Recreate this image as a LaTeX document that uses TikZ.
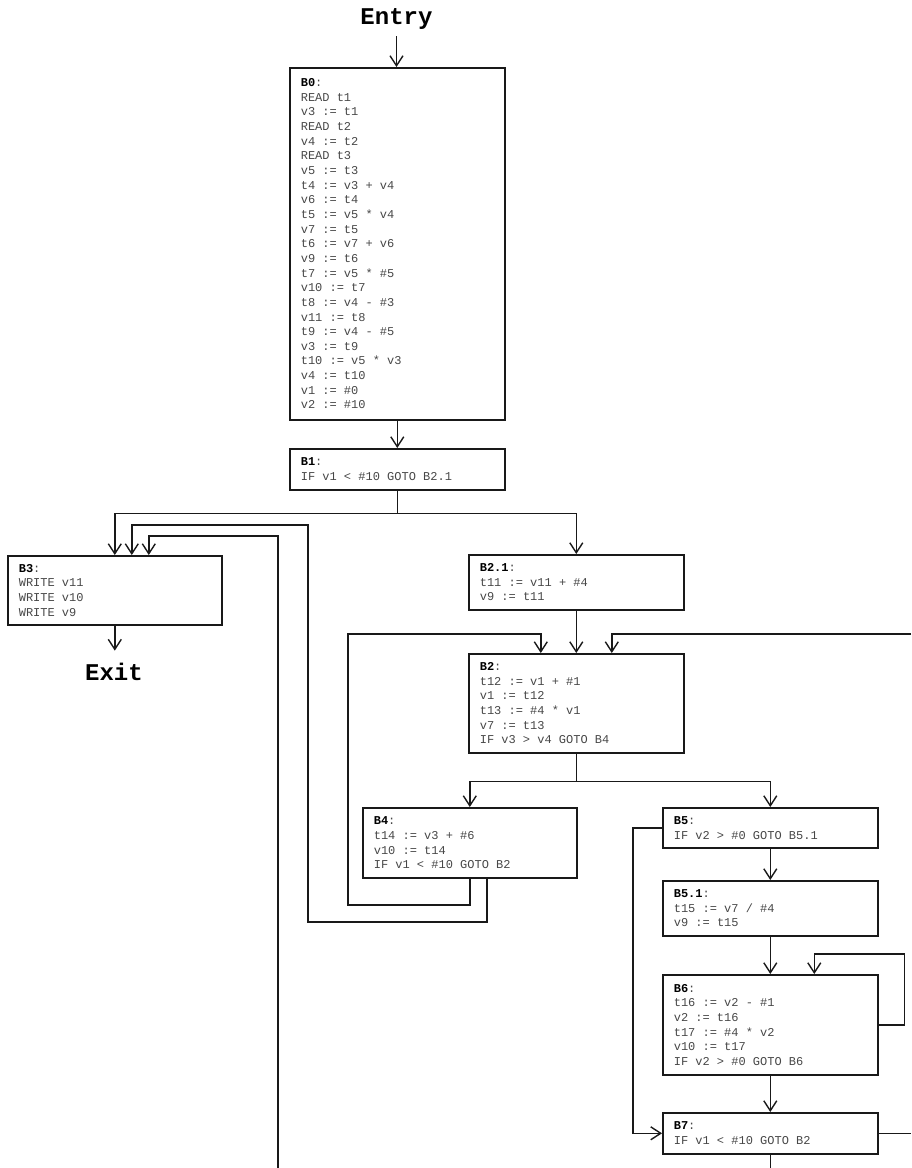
\documentclass[tikz,border=0pt]{standalone}
\usepackage{fontspec}
\newfontfamily\codefont{Liberation Mono}
\usetikzlibrary{arrows.meta}
\tikzset{
  blk/.style={draw=black!90, line width=1.6pt, anchor=north west, inner xsep=11pt, inner ysep=0pt,
    text width=#1, align=left, font=\codefont\fontsize{12}{14.65}\selectfont, text=black!72,
    execute at begin node={\spaceskip=7.2pt\xspaceskip=7.2pt\relax}},
  blk/.default=193pt,
  lbl/.style={},
  term/.style={font=\codefont\bfseries\fontsize{24}{24}\selectfont, inner sep=0pt},
  conn/.style={line width=1.4pt, draw=black!90},
  arr/.style={conn, -{Straight Barb[length=10pt,width=13pt,line width=1.4pt]}},
}
\newcommand{\bl}[1]{\textbf{\color{black}#1}}
\begin{document}
\begin{tikzpicture}[x=1pt,y=-1pt]
\useasboundingbox (0,0) rectangle (911,1168);
\coordinate (edgeR) at (911,0);
\coordinate (edgeB) at (0,1168);
% terminals
\node[term, outer ysep=7pt] (entry) at (396.5,19) {Entry};
% blocks
\node[blk, minimum width=215pt, minimum height=352pt] (B0) at (289,67) {\bl{B0}:\\READ t1\\v3 := t1\\READ t2\\v4 := t2\\READ t3\\v5 := t3\\t4 := v3 + v4\\v6 := t4\\t5 := v5 * v4\\v7 := t5\\t6 := v7 + v6\\v9 := t6\\t7 := v5 * \#5\\v10 := t7\\t8 := v4 - \#3\\v11 := t8\\t9 := v4 - \#5\\v3 := t9\\t10 := v5 * v3\\v4 := t10\\v1 := \#0\\v2 := \#10};
\node[blk, minimum width=215pt, minimum height=41pt] (B1) at (289,448) {\bl{B1}:\\IF v1 < \#10 GOTO B2.1};
\node[blk=192pt, minimum width=214pt, minimum height=69pt] (B3) at (7,555) {\bl{B3}:\\WRITE v11\\WRITE v10\\WRITE v9};
\node[term, anchor=base, outer ysep=12pt] (exit) at (114,680) {Exit};
\node[blk, minimum width=215pt, minimum height=55pt] (B21) at (468,554) {\bl{B2.1}:\\t11 := v11 + \#4\\v9 := t11};
\node[blk, minimum width=215pt, minimum height=99pt] (B2) at (468,653) {\bl{B2}:\\t12 := v1 + \#1\\v1 := t12\\t13 := \#4 * v1\\v7 := t13\\IF v3 > v4 GOTO B4};
\node[blk=192pt, minimum width=214pt, minimum height=70pt] (B4) at (362,807) {\bl{B4}:\\t14 := v3 + \#6\\v10 := t14\\IF v1 < \#10 GOTO B2};
\node[blk, minimum width=215pt, minimum height=40pt] (B5) at (662,807) {\bl{B5}:\\IF v2 > \#0 GOTO B5.1};
\node[blk, minimum width=215pt, minimum height=55pt] (B51) at (662,880) {\bl{B5.1}:\\t15 := v7 / \#4\\v9 := t15};
\node[blk, minimum width=215pt, minimum height=100pt] (B6) at (662,974) {\bl{B6}:\\t16 := v2 - \#1\\v2 := t16\\t17 := \#4 * v2\\v10 := t17\\IF v2 > \#0 GOTO B6};
\node[blk, minimum width=215pt, minimum height=41pt] (B7) at (662,1112) {\bl{B7}:\\IF v1 < \#10 GOTO B2};
% free ends at the picture edge
\coordinate (inR) at (911,634);
\coordinate (inB) at (278,1168);
% connectors
\draw[arr] (entry.south) -- (entry.south |- B0.north);
\draw[arr] (B0.south) -- (B1.north);
\draw[arr] (B1.south) -- ++(0,23) -| (B3.north);
\draw[arr] (B1.south) -- ++(0,23) -| (B21.north);
\draw[arr] (B3.south) -- (B3.south |- exit.north);
\draw[arr] (B21.south) -- (B2.north);
\draw[arr] (B2.south) -- ++(0,28) -| (B4.north);
\draw[arr] (B2.south) -- ++(0,28) -| (B5.north);
\draw[arr] (B4.south) -- (B4.south |- 0,905) -| (348,634) -| ([xshift=-35.5pt]B2.north);
\draw[arr] ([xshift=17pt]B4.south) -- ([xshift=17pt]B4.south |- 0,922) -| (308,525) -| ([xshift=17pt]B3.north);
\draw[arr] (inB) -- (inB |- 0,536) -| ([xshift=34pt]B3.north);
\draw[arr] (inR) -| ([xshift=35.5pt]B2.north);
\draw[arr] (B5.west) -- ++(-29,0) |- (B7.west);
\draw[arr] (B5.south) -- (B51.north);
\draw[arr] (B51.south) -- (B6.north);
\draw[arr] (B6.east) -- ++(26,0) |- ([xshift=44pt,yshift=20pt]B6.north) -- ([xshift=44pt]B6.north);
\draw[arr] (B6.south) -- (B7.north);
\draw[conn] (B7.east) -- (B7.east -| edgeR);
\draw[conn] (B7.south) -- (B7.south |- edgeB);
\end{tikzpicture}
\end{document}
